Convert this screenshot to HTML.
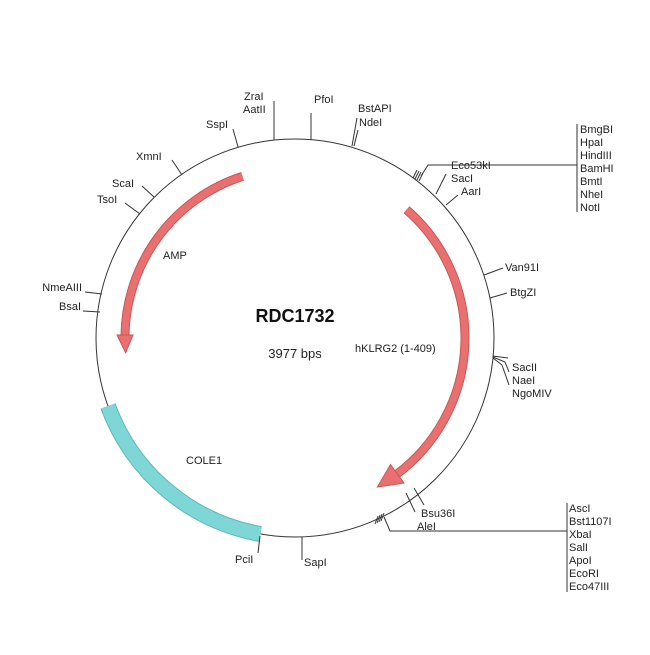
<!DOCTYPE html>
<html><head><meta charset="utf-8"><style>
html,body{margin:0;padding:0;background:#fff;}
svg text{font-family:"Liberation Sans",sans-serif;font-size:11px;fill:#222;}
</style></head><body>
<svg width="650" height="650" viewBox="0 0 650 650" xmlns="http://www.w3.org/2000/svg">
<rect width="650" height="650" fill="#fff"/>
<circle cx="295" cy="338" r="199" fill="none" stroke="#333" stroke-width="1"/>

<!-- COLE1 -->
<path d="M260.4,534 A199,199 0 0 1 108,406" fill="none" stroke="#5fb8b8" stroke-width="16"/>
<path d="M260.4,534 A199,199 0 0 1 108,406" fill="none" stroke="#7fd6d6" stroke-width="14"/>

<!-- AMP -->
<g fill="#e87070" stroke="#cc5555" stroke-width="1">
<path d="M242.5,176.3 A170,170 0 0 0 125,335" fill="none" stroke="#cc5555" stroke-width="9"/>
<path d="M242.5,176.3 A170,170 0 0 0 125,335" fill="none" stroke="#e87070" stroke-width="7"/>
<polygon points="133,335 117,335 125.6,352.8"/>
</g>
<!-- hKLRG2 -->
<g fill="#e87070" stroke="#cc5555" stroke-width="1">
<path d="M406.5,209.7 A170,170 0 0 1 397.3,473.8" fill="none" stroke="#cc5555" stroke-width="9"/>
<path d="M406.5,209.7 A170,170 0 0 1 397.3,473.8" fill="none" stroke="#e87070" stroke-width="7"/>
<polygon points="390.5,464.5 404,483 377.4,487"/>
</g>

<text x="295" y="322" text-anchor="middle" style="font-size:18px;font-weight:bold;fill:#111">RDC1732</text>
<text x="295" y="358" text-anchor="middle" style="font-size:13px">3977 bps</text>
<text x="163" y="259">AMP</text>
<text x="355" y="352">hKLRG2 (1-409)</text>
<text x="186" y="464">COLE1</text>

<g stroke="#333" stroke-width="1" fill="none">
<line x1="311" y1="140" x2="311" y2="113"/>
<line x1="274" y1="140" x2="274" y2="101"/>
<line x1="238" y1="147" x2="233" y2="129"/>
<line x1="182" y1="175" x2="172" y2="160"/>
<line x1="154" y1="197" x2="142" y2="186"/>
<line x1="140" y1="214" x2="125" y2="203"/>
<line x1="102" y1="294" x2="85" y2="292"/>
<line x1="100" y1="312" x2="83" y2="311"/>
<line x1="352" y1="146" x2="357" y2="118"/>
<line x1="354" y1="146" x2="358" y2="130"/>
<line x1="436" y1="194" x2="446" y2="174"/>
<line x1="446" y1="205" x2="458" y2="195"/>
<line x1="484" y1="275" x2="503" y2="268"/>
<line x1="490" y1="298" x2="507" y2="293"/>
<polyline points="493,356 508,358"/>
<polyline points="493,357 505,362 509,372"/>
<polyline points="493,358 502,365 509,385"/>
<line x1="414" y1="488" x2="424" y2="505"/>
<line x1="406" y1="493" x2="415" y2="512"/>
<line x1="302" y1="537" x2="302" y2="560"/>
<line x1="260" y1="536" x2="258" y2="553"/>
<!-- top right cluster -->
<line x1="413" y1="178" x2="417" y2="170"/>
<line x1="415" y1="179" x2="419" y2="171"/>
<line x1="417" y1="180" x2="421" y2="172"/>
<line x1="419" y1="181" x2="423" y2="173"/>
<polyline points="421,176 428,165 577,165"/>
<line x1="577" y1="124" x2="577" y2="212"/>
<!-- bottom right cluster -->
<line x1="378" y1="516" x2="375" y2="524"/>
<line x1="380" y1="515" x2="377" y2="523"/>
<line x1="382" y1="514" x2="379" y2="522"/>
<line x1="384" y1="513" x2="381" y2="521"/>
<polyline points="384,517 390,531 567,531"/>
<line x1="567" y1="503" x2="567" y2="592"/>
</g>

<text x="314" y="103">PfoI</text>
<text x="244" y="100">ZraI</text>
<text x="243" y="113">AatII</text>
<text x="206" y="128">SspI</text>
<text x="136" y="160">XmnI</text>
<text x="112" y="187">ScaI</text>
<text x="97" y="203">TsoI</text>
<text x="82" y="291" text-anchor="end">NmeAIII</text>
<text x="81" y="310" text-anchor="end">BsaI</text>
<text x="358" y="112">BstAPI</text>
<text x="359" y="126">NdeI</text>
<text x="451" y="169">Eco53kI</text>
<text x="451" y="182">SacI</text>
<text x="461" y="195">AarI</text>
<g>
<text x="580" y="133">BmgBI</text>
<text x="580" y="146">HpaI</text>
<text x="580" y="159">HindIII</text>
<text x="580" y="172">BamHI</text>
<text x="580" y="185">BmtI</text>
<text x="580" y="198">NheI</text>
<text x="580" y="211">NotI</text>
</g>
<text x="505" y="271">Van91I</text>
<text x="510" y="296">BtgZI</text>
<text x="512" y="371">SacII</text>
<text x="512" y="384">NaeI</text>
<text x="512" y="397">NgoMIV</text>
<text x="421" y="517">Bsu36I</text>
<text x="417" y="530">AleI</text>
<text x="235" y="563">PciI</text>
<text x="304" y="566">SapI</text>
<g>
<text x="569" y="512">AscI</text>
<text x="569" y="525">Bst1107I</text>
<text x="569" y="538">XbaI</text>
<text x="569" y="551">SalI</text>
<text x="569" y="564">ApoI</text>
<text x="569" y="577">EcoRI</text>
<text x="569" y="590">Eco47III</text>
</g>
</svg>
</body></html>
